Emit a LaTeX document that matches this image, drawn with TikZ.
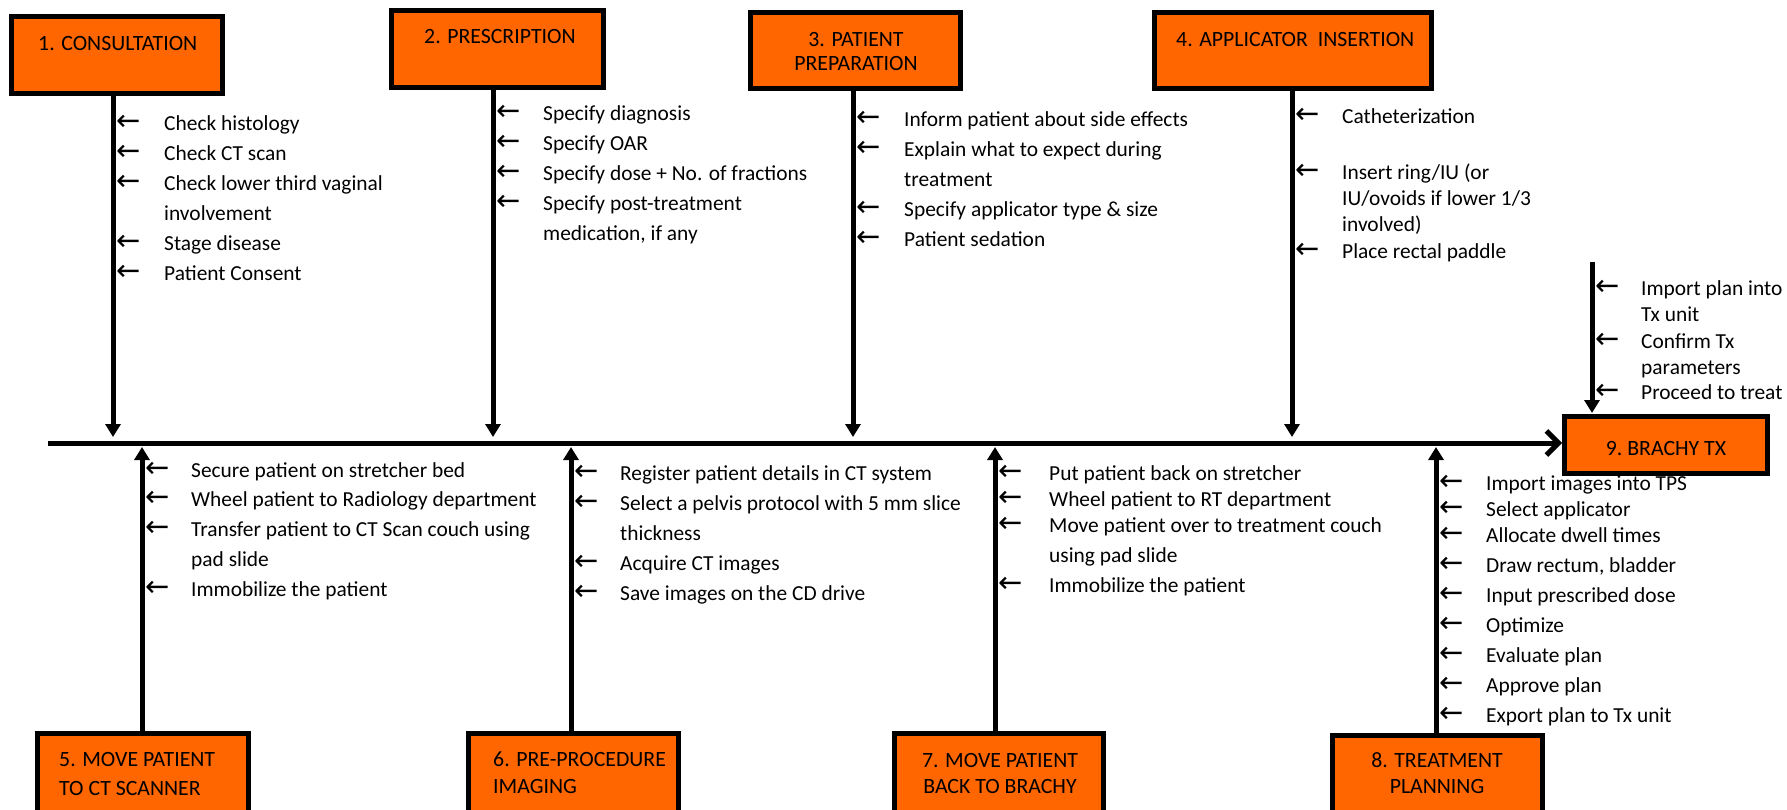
\documentclass[tikz,border=0pt]{standalone}
\usepackage{fontspec}
\setmainfont{Carlito}
\newfontfamily\arrowfont{DejaVu Sans}
\usetikzlibrary{arrows.meta}
\definecolor{steporange}{HTML}{FF6600}
\tikzset{
  stepbox/.style={draw=black, fill=steporange, line width=5pt, inner sep=0pt},
  steptitle/.style={inner sep=0pt, font=\fontsize{21.8}{26}\selectfont},
  itemtext/.style={inner sep=0pt, anchor=mid west, font=\fontsize{21.4}{25}\selectfont},
  itemarrow/.style={inner sep=0pt, anchor=mid west, font=\arrowfont\fontsize{29}{32}\selectfont},
  feed/.style={line width=5pt, -{Triangle[length=13pt,width=15pt]}},
  spine/.style={line width=5pt, -{Straight Barb[length=12pt,width=24pt,line width=5pt]}},
}
% one row per printed line: y / text / 1 if the line starts with an arrow
\newcommand\stepitems[4]{%
  \foreach \rowy/\rowtext/\rowmark [count=\i] in {#4}{
    \node[itemtext] (#1t\i) at (#3,\rowy) {\rowtext};
    \ifnum\rowmark=1 \node[itemarrow] (#1a\i) at (#2,\rowy) {←};\fi
  }}
\begin{document}
\begin{tikzpicture}[x=1pt,y=-1pt]
\useasboundingbox (0,0) rectangle (1787,809);
\clip (0,0) rectangle (1787,809);

% ---- step boxes ----
\node[stepbox, minimum width=211pt, minimum height=77pt] (b1) at (117,55) {};
\node[stepbox, minimum width=212pt, minimum height=77pt] (b2) at (497.5,49) {};
\node[stepbox, minimum width=210pt, minimum height=76pt] (b3) at (855.5,50.5) {};
\node[stepbox, minimum width=277pt, minimum height=76pt] (b4) at (1293,50.5) {};
\node[stepbox, minimum width=211pt, minimum height=124pt] (b5) at (143,795.5) {};
\node[stepbox, minimum width=210pt, minimum height=124pt] (b6) at (573.5,795.5) {};
\node[stepbox, minimum width=209pt, minimum height=124pt] (b7) at (999,795.5) {};
\node[stepbox, minimum width=210pt, minimum height=124pt] (b8) at (1437.5,797.5) {};
\node[stepbox, minimum width=203pt, minimum height=57pt] (b9) at (1666,445) {};

% ---- box titles (baselines) ----
\node[steptitle, anchor=base west] (t1) at (38,50) {1. CONSULTATION};
\node[steptitle, anchor=base west] (t2) at (424,43) {2. PRESCRIPTION};
\node[steptitle, anchor=base] (t3a) at (856,46) {3. PATIENT};
\node[steptitle, anchor=base] (t3b) at (856,70) {PREPARATION};
\node[steptitle, anchor=base west] (t4) at (1176,46) {4. APPLICATOR\ \ INSERTION};
\node[steptitle, anchor=base west] (t5a) at (59,766) {5. MOVE PATIENT};
\node[steptitle, anchor=base west] (t5b) at (59,795) {TO CT SCANNER};
\node[steptitle, anchor=base west] (t6a) at (493,766) {6. PRE-PROCEDURE};
\node[steptitle, anchor=base west] (t6b) at (493,793) {IMAGING};
\node[steptitle, anchor=base] (t7a) at (1000,767) {7. MOVE PATIENT};
\node[steptitle, anchor=base] (t7b) at (1000,793) {BACK TO BRACHY};
\node[steptitle, anchor=base] (t8a) at (1437,767) {8. TREATMENT};
\node[steptitle, anchor=base] (t8b) at (1437,793) {PLANNING};
\node[steptitle, anchor=base] (t9) at (1666,455) {9.\ BRACHY TX};

% ---- spine ----
\coordinate (start) at (48,443);
\draw[spine] (start) -- (start -| b9.west);

% ---- where each feeder meets the spine ----
\coordinate (m1) at (113,437);
\coordinate (m2) at (493,437);
\coordinate (m3) at (853,437);
\coordinate (m4) at (1292,437);
\coordinate (m5) at (142,447);
\coordinate (m6) at (571,447);
\coordinate (m7) at (995,447);
\coordinate (m8) at (1436,447);
\coordinate (m9) at (1592,262);

\draw[feed] (b1.south -| m1) -- (m1);
\draw[feed] (b2.south -| m2) -- (m2);
\draw[feed] (b3.south -| m3) -- (m3);
\draw[feed] (b4.south -| m4) -- (m4);
\draw[feed] (b5.north -| m5) -- (m5);
\draw[feed] (b6.north -| m6) -- (m6);
\draw[feed] (b7.north -| m7) -- (m7);
\draw[feed] (b8.north -| m8) -- (m8);
\draw[feed] (m9) -- ([yshift=1pt]b9.north -| m9);

% ---- task lists ----
\stepitems{c}{116}{164}{128/Check histology/1, 158/Check CT scan/1,
  188/Check lower third vaginal/1, 218/involvement/0,
  248/Stage disease/1, 278/Patient Consent/1}
\stepitems{p}{496}{543}{118/Specify diagnosis/1, 148/Specify OAR/1,
  178/Specify dose + No. of fractions/1, 208/Specify post-treatment/1,
  238/{medication, if any}/0}
\stepitems{r}{856}{904}{124/Inform patient about side effects/1,
  154/Explain what to expect during/1, 184/treatment/0,
  214/Specify applicator type \& size/1, 244/Patient sedation/1}
\stepitems{i}{1295}{1342}{121/Catheterization/1, 177/{Insert ring/IU (or}/1,
  203/{IU/ovoids if lower 1/3}/0, 229/involved)/0, 256/Place rectal paddle/1}
\stepitems{x}{1595}{1641}{293/Import plan into/1, 319/Tx unit/0,
  346/Confirm Tx/1, 372/parameters/0, 397/Proceed to treat/1}
\stepitems{s}{145}{191}{475/Secure patient on stretcher bed/1,
  504/Wheel patient to Radiology department/1,
  534/Transfer patient to CT Scan couch using/1, 564/pad slide/0,
  594/Immobilize the patient/1}
\stepitems{g}{574}{620}{478/Register patient details in CT system/1,
  508/Select a pelvis protocol with 5 mm slice/1, 538/thickness/0,
  568/Acquire CT images/1, 598/Save images on the CD drive/1}
\stepitems{k}{998}{1049}{478/Put patient back on stretcher/1,
  504/Wheel patient to RT department/1,
  530/Move patient over to treatment couch/1, 560/using pad slide/0,
  590/Immobilize the patient/1}
\stepitems{n}{1439}{1486}{488/Import images into TPS/1, 514/Select applicator/1,
  540/Allocate dwell times/1, 570/{Draw rectum, bladder}/1,
  600/Input prescribed dose/1, 630/Optimize/1, 660/Evaluate plan/1,
  690/Approve plan/1, 720/Export plan to Tx unit/1}
\end{tikzpicture}
\end{document}
